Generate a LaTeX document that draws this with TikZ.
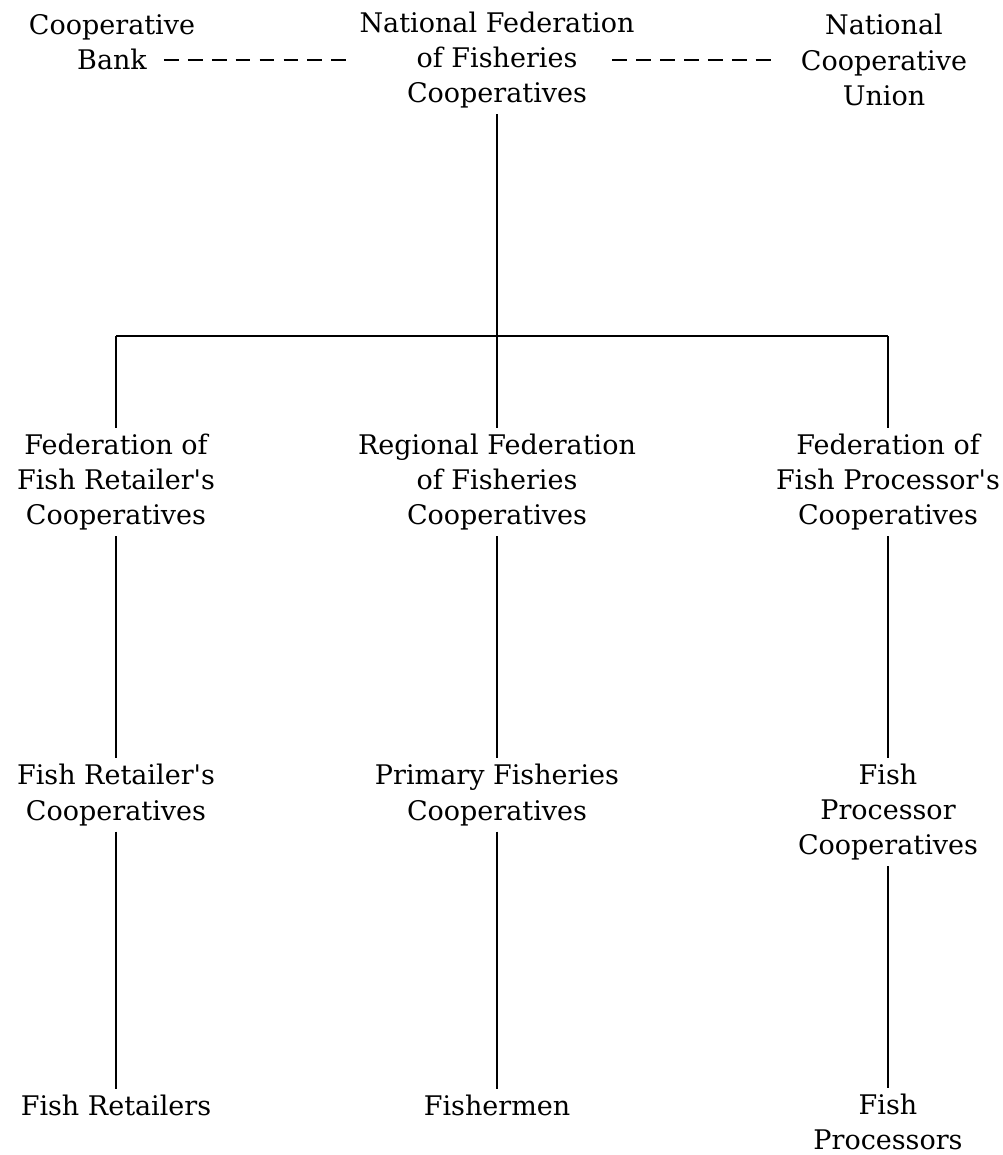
\documentclass[tikz,border=0pt]{standalone}
\usepackage{fontspec}
\setmainfont{DejaVu Serif}
\usetikzlibrary{calc}
\tikzstyle{org} = [align=center, inner sep=4pt, font=\fontsize{19.2}{25}\selectfont]
\tikzstyle{link} = [line width=1.4pt]
\tikzstyle{tie} = [line width=1.2pt, dash pattern=on 10.5pt off 6.5pt]

\begin{document}
\begin{tikzpicture}[x=0.025cm, y=-0.025cm]
		\useasboundingbox (0,0) rectangle (1003,1155);
		% top level
		\node (bank) [org] at (112, 42) {Cooperative\\Bank};
		\node (natfed) [org] at (497, 60) {National Federation\\of Fisheries\\Cooperatives};
		\node (union) [org] at (884, 60) {National\\Cooperative\\Union};
		\coordinate (bar) at ($(natfed) + (0, 276)$);

		% federations
		\node (retfed) [org] at (116, 482) {Federation of\\Fish Retailer\textquotesingle s\\Cooperatives};
		\node (regfed) [org] at (497, 482) {Regional Federation\\of Fisheries\\Cooperatives};
		\node (profed) [org] at (888, 482) {Federation of\\Fish Processor\textquotesingle s\\Cooperatives};

		% cooperatives
		\node (retcoop) [org] at ($(retfed) + (0, 313)$) {Fish Retailer\textquotesingle s\\Cooperatives};
		\node (primcoop) [org] at ($(regfed) + (0, 313)$) {Primary Fisheries\\Cooperatives};
		\node (procoop) [org] at ($(profed) + (0, 330)$) {Fish\\Processor\\Cooperatives};

		% members
		\node (retailers) [org] at ($(retcoop) + (0, 310)$) {Fish Retailers};
		\node (fishermen) [org] at ($(primcoop) + (0, 310)$) {Fishermen};
		\node (processors) [org] at ($(procoop) + (0, 310)$) {Fish\\Processors};

		\draw[tie] ($(bank.east |- natfed) + (-37, 0)$) -- (natfed.west);
		\draw[tie] ($(natfed.east) + (-28, 0)$) -- ($(union.west) + (-21, 0)$);

		\draw[link] (natfed) -- (regfed);
		\draw[link] (retfed |- bar) -- (profed |- bar);
		\draw[link] (retfed |- bar) -- (retfed);
		\draw[link] (profed |- bar) -- (profed);

		\draw[link] (retfed) -- (retcoop);
		\draw[link] (regfed) -- (primcoop);
		\draw[link] (profed) -- (procoop);
		\draw[link] (retcoop) -- (retailers);
		\draw[link] (primcoop) -- (fishermen);
		\draw[link] (procoop) -- (processors);
	\end{tikzpicture}
\end{document}
